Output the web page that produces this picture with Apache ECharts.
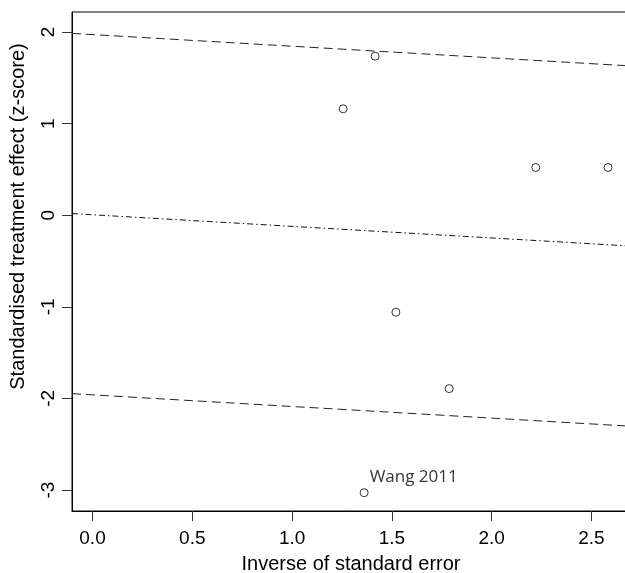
<!DOCTYPE html>
<html>
<head>
<meta charset="utf-8">
<script src="https://cdn.jsdelivr.net/npm/echarts@6/dist/echarts.min.js"></script>
<style>html,body{margin:0;padding:0;background:#fff;}#c{width:625px;height:573px;}</style>
</head>
<body>
<div id="c"></div>
<script>
// Study points: inverse SE (x) and z-score (y)
const studyNames = ['', '', '', '', '', '', 'Wang 2011'];
const invSE = [1.416, 1.256, 2.221, 2.583, 1.520, 1.787, 1.361];
const zScore = [1.736, 1.162, 0.521, 0.521, -1.059, -1.893, -3.029];
// Regression line and confidence bounds, endpoints at plot edges
const lineX = [-0.1027, 2.693];
const upperY = [1.985, 1.630];
const centerY = [0.018, -0.336];
const lowerY = [-1.948, -2.303];
// Ticks
const xTicks = [0, 0.5, 1, 1.5, 2, 2.5];
const yTicks = [-3, -2, -1, 0, 1, 2];

const chart = echarts.init(document.getElementById('c'), null, {renderer: 'canvas'});
const pts = invSE.map((x, i) => ({value: [x, zScore[i]], name: studyNames[i]}));
const mkLine = ys => lineX.map((x, i) => [x, ys[i]]);
const font = '"Liberation Sans", Arial, sans-serif';

chart.setOption({
  animation: false,
  grid: {left: 72, top: 12, right: -5, bottom: 62, containLabel: false, outerBoundsMode: 'none',
         show: true, borderColor: '#000', borderWidth: 1, backgroundColor: 'transparent'},
  xAxis: {
    type: 'value', min: -0.1027, max: 2.693,
    name: 'Inverse of standard error', nameLocation: 'middle', nameGap: 43,
    nameTextStyle: {fontFamily: font, fontSize: 20, color: '#000'},
    axisLine: {show: true, onZero: false, lineStyle: {color: '#000'}},
    axisTick: {show: true, customValues: xTicks, length: 10, lineStyle: {color: '#333'}},
    axisLabel: {customValues: xTicks, formatter: v => v.toFixed(1), fontFamily: font, fontSize: 19, color: '#000', margin: 18},
    splitLine: {show: false}
  },
  yAxis: {
    type: 'value', min: -3.229, max: 2.2185,
    name: 'Standardised treatment effect (z-score)', nameLocation: 'middle', nameGap: 44, nameRotate: 90,
    nameTextStyle: {fontFamily: font, fontSize: 20, color: '#000', padding: [0, 0, 0, 90]},
    axisLine: {show: true, onZero: false, lineStyle: {color: '#000'}},
    axisTick: {show: true, customValues: yTicks, length: 10, lineStyle: {color: '#333'}},
    axisLabel: {customValues: yTicks, formatter: v => String(v), rotate: 90, fontFamily: font, fontSize: 19, color: '#000', margin: 14},
    splitLine: {show: false}
  },
  series: [
    {type: 'line', data: mkLine(upperY), symbol: 'none', lineStyle: {color: '#222', width: 1, type: [9, 5]}, z: 1, silent: true},
    {type: 'line', data: mkLine(lowerY), symbol: 'none', lineStyle: {color: '#222', width: 1, type: [9, 5]}, z: 1, silent: true},
    {type: 'line', data: mkLine(centerY), symbol: 'none', lineStyle: {color: '#111', width: 1, type: [6, 3, 1.5, 3]}, z: 1, silent: true},
    {
      type: 'scatter', data: pts, symbol: 'circle', symbolSize: 8,
      itemStyle: {color: '#fff', borderColor: '#000', borderWidth: 1},
      z: 3,
      label: {
        show: true, formatter: p => p.name, position: [10, -11], align: 'left', verticalAlign: 'middle',
        fontFamily: '"Open Sans", sans-serif', fontSize: 17, color: '#000'
      }
    }
  ]
});
</script>
</body>
</html>
